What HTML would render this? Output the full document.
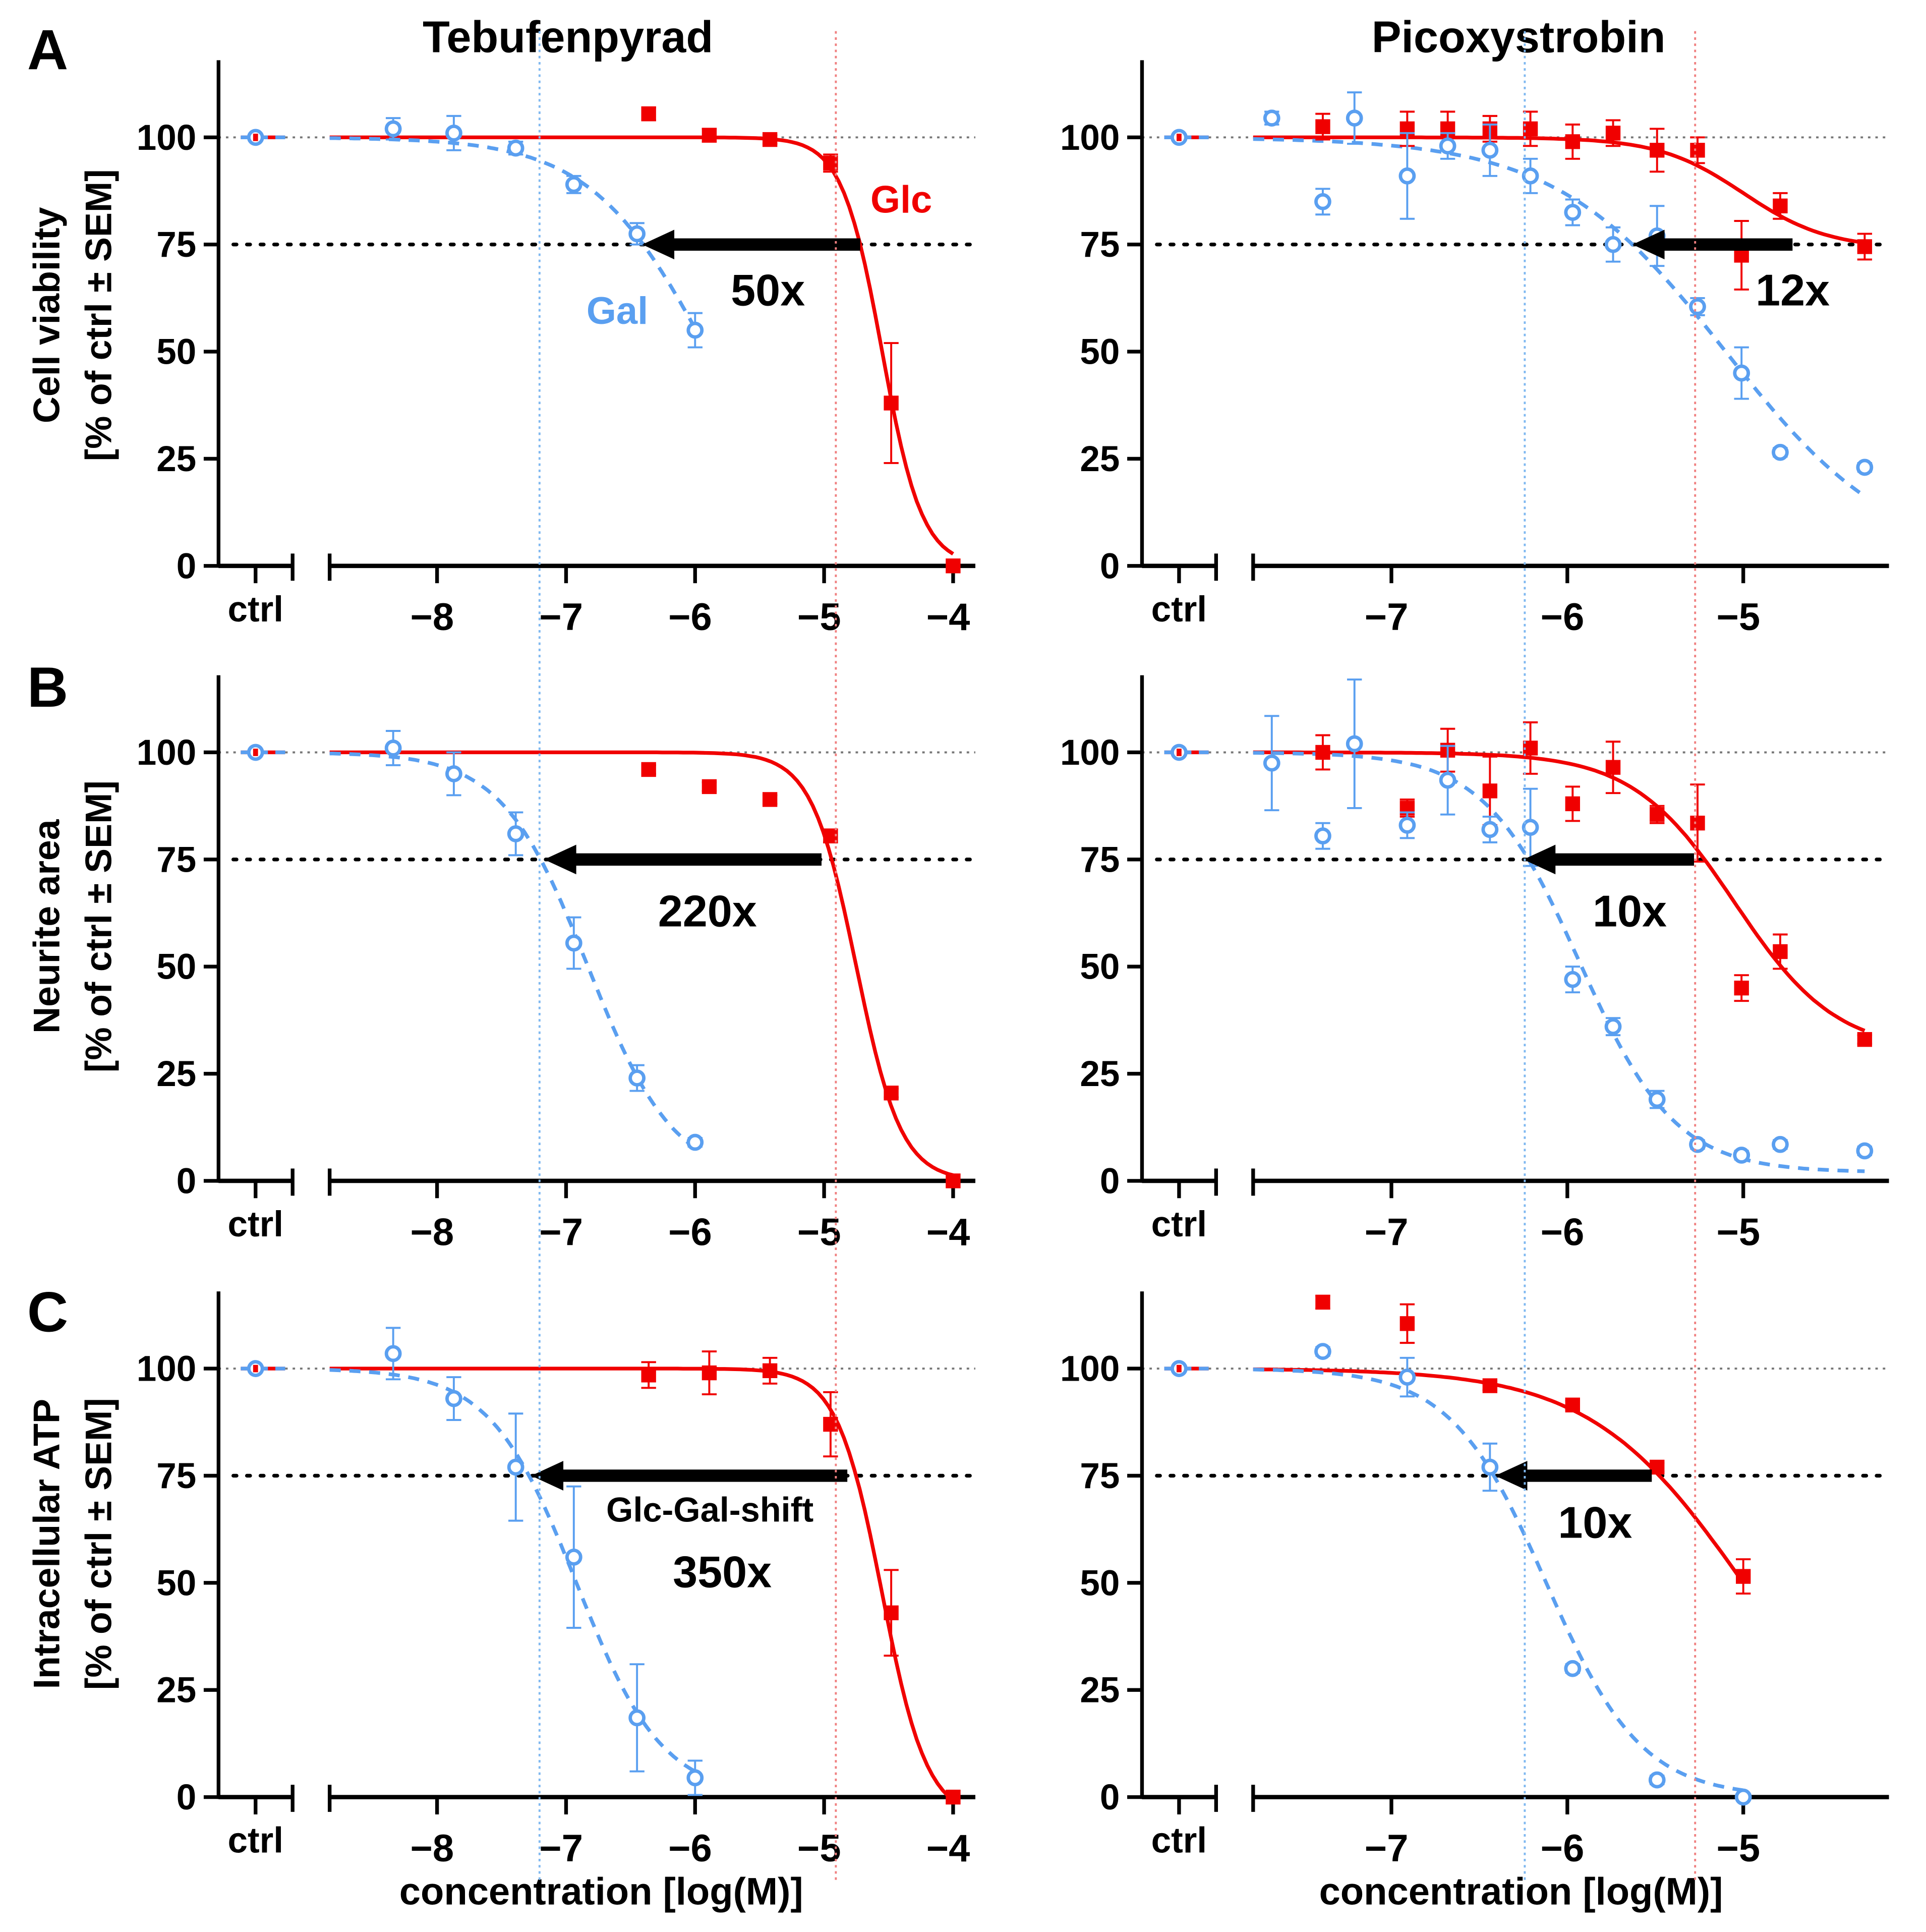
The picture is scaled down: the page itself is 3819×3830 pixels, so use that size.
<!DOCTYPE html>
<html><head><meta charset="utf-8">
<style>
html,body{margin:0;padding:0;background:#fff;}
svg{display:block;}
text{font-family:"Liberation Sans Narrow","Liberation Sans",sans-serif;font-weight:bold;}
</style></head>
<body>
<svg id="chart" width="3819" height="3830" viewBox="0 0 1560 1564" xmlns="http://www.w3.org/2000/svg">
<g id="static">
<text x="22" y="56" font-size="46" font-family="Liberation Sans">A</text>
<text x="22" y="572" font-size="46" font-family="Liberation Sans">B</text>
<text x="22" y="1078" font-size="46" font-family="Liberation Sans">C</text>
<text x="460" y="42" font-size="36" text-anchor="middle">Tebufenpyrad</text>
<text x="1230" y="42" font-size="36" text-anchor="middle">Picoxystrobin</text>
<g font-size="30" font-family="Liberation Sans" text-anchor="middle">
<text transform="translate(48,255) rotate(-90)">Cell viability</text>
<text transform="translate(90,255) rotate(-90)">[% of ctrl ± SEM]</text>
<text transform="translate(48,750) rotate(-90)">Neurite area</text>
<text transform="translate(90,750) rotate(-90)">[% of ctrl ± SEM]</text>
<text transform="translate(48,1250) rotate(-90)">Intracellular ATP</text>
<text transform="translate(90,1250) rotate(-90)">[% of ctrl ± SEM]</text>
</g>
<text x="487" y="1542" font-size="31" text-anchor="middle">concentration [log(M)]</text>
<text x="1232" y="1542" font-size="31" text-anchor="middle">concentration [log(M)]</text>
</g>
<g id="plots"></g>
</svg>
<script>
// ---- data (log M, % of ctrl) ----
const A1_galX=[-8.34,-7.87,-7.39,-6.94,-6.45,-6.0];
const A1_galY=[102,101,97.5,89,77.5,55];
const A1_galE=[2.5,4,1.5,2,2.5,4];
const A1_glcX=[-6.36,-5.89,-5.42,-4.95,-4.48,-4.0];
const A1_glcY=[105.5,100.5,99.5,94,38,0];
const A1_glcE=[1.5,1.5,1,2,14,0];
const A2_galX=[-7.68,-7.39,-7.21,-6.91,-6.68,-6.44,-6.21,-5.97,-5.74,-5.49,-5.26,-5.01,-4.79,-4.31];
const A2_galY=[104.5,85,104.5,91,98,97,91,82.5,75,77,60.5,45,26.5,23];
const A2_galE=[1.5,3,6,10,3,6,4,3,4,7,2,6,1,1];
const A2_glcX=[-7.39,-6.91,-6.68,-6.44,-6.21,-5.97,-5.74,-5.49,-5.26,-5.01,-4.79,-4.31];
const A2_glcY=[102.5,102,102,102,102,99,101,97,97,72.5,84,74.5];
const A2_glcE=[3,4,4,3,4,4,3,5,3,8,3,3];
const B1_galX=[-8.34,-7.87,-7.39,-6.94,-6.45,-6.0];
const B1_galY=[101,95,81,55.5,24,9];
const B1_galE=[4,5,5,6,3,1];
const B1_glcX=[-6.36,-5.89,-5.42,-4.95,-4.48,-4.0];
const B1_glcY=[96,92,89,80.5,20.5,0];
const B1_glcE=[1,1,1,1.5,1,0];
const B2_galX=[-7.68,-7.39,-7.21,-6.91,-6.68,-6.44,-6.21,-5.97,-5.74,-5.49,-5.26,-5.01,-4.79,-4.31];
const B2_galY=[97.5,80.5,102,83,93.5,82,82.5,47,36,19,8.5,6,8.5,7];
const B2_galE=[11,3,15,3,8,3,9,3,2,2,1,1,1,1];
const B2_glcX=[-7.39,-6.91,-6.68,-6.44,-6.21,-5.97,-5.74,-5.49,-5.26,-5.01,-4.79,-4.31];
const B2_glcY=[100,87,100.5,91,101,88,96.5,85.5,83.5,45,53.5,33];
const B2_glcE=[4,2,5,8,6,4,6,2,9,3,4,1];
const C1_galX=[-8.34,-7.87,-7.39,-6.94,-6.45,-6.0];
const C1_galY=[103.5,93,77,56,18.5,4.5];
const C1_galE=[6,5,12.5,16.5,12.5,4];
const C1_glcX=[-6.36,-5.89,-5.42,-4.95,-4.48,-4.0];
const C1_glcY=[98.5,99,99.5,87,43,0];
const C1_glcE=[3,5,3,7.5,10,0];
const C2_galX=[-7.39,-6.91,-6.44,-5.97,-5.49,-5.0];
const C2_galY=[104,98,77,30,4,0];
const C2_galE=[1,4.5,5.5,1,1,0];
const C2_glcX=[-7.39,-6.91,-6.44,-5.97,-5.49,-5.0];
const C2_glcY=[115.5,110.5,96,91.5,77,51.5];
const C2_glcE=[1.5,4.5,1,1,1,4];
// fit parameters [top, bottom, logIC50, hill]
const A1_galFit=[100,0,-5.9,0.95], A1_glcFit=[100,0,-4.55,2.8];
const A2_galFit=[100,0,-5.1,0.9], A2_glcFit=[100,74,-5.0,1.8];
const B1_galFit=[100,0,-6.83,1.3], B1_glcFit=[100,0,-4.75,2.5];
const B2_galFit=[100,2,-5.93,1.6], B2_glcFit=[100,30,-5.05,1.5];
const C1_galFit=[100,0,-6.92,1.3], C1_glcFit=[100,-5,-4.55,2.5];
const C2_galFit=[100,0,-6.12,1.6], C2_glcFit=[100,0,-5.0,1.0];
// shift arrows [from, to] in log M at 75 %
const A1_arrow=[-4.72,-6.41], A2_arrow=[-4.72,-5.63];
const B1_arrow=[-5.02,-7.17], B2_arrow=[-5.28,-6.25];
const C1_arrow=[-4.82,-7.27], C2_arrow=[-5.52,-6.41];
const yTicks=[0,25,50,75,100];
const leftXTicks=[-8,-7,-6,-5,-4];
const rightXTicks=[-7,-6,-5];

const NS='http://www.w3.org/2000/svg';
const RED='#f00000', BLUE='#5a9ff0';
const plots=document.getElementById('plots');
function mk(tag,attrs,parent){const e=document.createElementNS(NS,tag);for(const k in attrs)e.setAttribute(k,attrs[k]);(parent||plots).appendChild(e);return e;}
function hill(p,l){return p[1]+(p[0]-p[1])/(1+Math.pow(10,(l-p[2])*p[3]));}

function panel(o){
  const g=mk('g',{});
  
  
  const y=v=>o.y0-v*3.47;
  const x=l=>o.xRef+(l-o.lRef)*o.dec;
  const ax=o.ax;
  // reference lines
  mk('line',{x1:ax,x2:o.xEnd,y1:y(100),y2:y(100),stroke:'#777','stroke-width':1.6,'stroke-dasharray':'2 4'},g);
  mk('line',{x1:ax+12,x2:o.xEnd,y1:y(75),y2:y(75),stroke:'#000','stroke-width':3,'stroke-dasharray':'2.6 8.4','stroke-linecap':'round'},g);
  // axes
  mk('line',{x1:ax,x2:ax,y1:y(118),y2:o.y0+1.5,stroke:'#000','stroke-width':3},g);
  yTicks.forEach(v=>{
    const t=mk('line',{x1:ax-12,x2:ax,y1:y(v),y2:y(v),stroke:'#000','stroke-width':3},g);
    
    
    const tl=mk('text',{x:ax-18,y:y(v)+10,'font-size':29,'text-anchor':'end'},g);
    tl.textContent=v;
    
    
  });
  mk('line',{x1:ax,x2:ax+60,y1:o.y0,y2:o.y0,stroke:'#000','stroke-width':3.5},g);
  mk('line',{x1:ax+60,x2:ax+60,y1:o.y0-10,y2:o.y0+12,stroke:'#000','stroke-width':3},g);
  mk('line',{x1:ax+30,x2:ax+30,y1:o.y0,y2:o.y0+14,stroke:'#000','stroke-width':3},g);
  const cl=mk('text',{x:ax+30,y:o.y0+45,'font-size':29,'text-anchor':'middle'},g);
  cl.textContent='ctrl';
  
  
  mk('line',{x1:ax+90,x2:o.xEnd,y1:o.y0,y2:o.y0,stroke:'#000','stroke-width':3.5},g);
  mk('line',{x1:ax+90,x2:ax+90,y1:o.y0-10,y2:o.y0+12,stroke:'#000','stroke-width':3},g);
  o.xt.forEach(l=>{
    mk('line',{x1:x(l),x2:x(l),y1:o.y0,y2:o.y0+14,stroke:'#000','stroke-width':3},g);
    const tl=mk('text',{x:x(l)-4,y:o.y0+52,'font-size':31,'text-anchor':'middle'},g);
    tl.textContent='\u2212'+Math.abs(l);
    
    
  });
  // ctrl point lines
  mk('line',{x1:ax+18,x2:ax+54,y1:y(100),y2:y(100),stroke:RED,'stroke-width':3},g);
  mk('line',{x1:ax+18,x2:ax+54,y1:y(100),y2:y(100),stroke:BLUE,'stroke-width':3,'stroke-dasharray':'8 6'},g);
  // curves
  const l0=(ax+90-o.xRef)/o.dec+o.lRef;
  function curve(p,lEnd,color,dash,nm){
    let d='';const n=120;
    for(let i=0;i<=n;i++){const l=l0+(lEnd-l0)*i/n;d+=(i?'L':'M')+x(l).toFixed(1)+','+y(hill(p,l)).toFixed(1);}
    const c=mk('path',{d:d,fill:'none',stroke:color,'stroke-width':3,'stroke-dasharray':dash||'none'},g);
    
    
  }
  curve(o.glcFit,o.glcEnd,RED,null,'glc-fit-curve');
  curve(o.galFit,o.galEnd,BLUE,'9 7','gal-fit-curve');
  // error bars + markers
  function series(xs,ys,es,color,kind){
    xs.forEach((l,i)=>{
      const cx=x(l),cy=y(ys[i]),e=es[i]*3.47;
      if(e>0){
        mk('line',{x1:cx,x2:cx,y1:cy-e,y2:cy+e,stroke:color,'stroke-width':1.6},g);
        mk('line',{x1:cx-6,x2:cx+6,y1:cy-e,y2:cy-e,stroke:color,'stroke-width':1.6},g);
        mk('line',{x1:cx-6,x2:cx+6,y1:cy+e,y2:cy+e,stroke:color,'stroke-width':1.6},g);
      }
      let m;
      if(kind==='sq'){m=mk('rect',{x:cx-6,y:cy-6,width:12,height:12,fill:color},g);}
      else{m=mk('circle',{cx:cx,cy:cy,r:5.5,fill:'#fff',stroke:color,'stroke-width':2.8},g);}
      
    });
  }
  series(o.glcX,o.glcY,o.glcE,RED,'sq');
  series(o.galX,o.galY,o.galE,BLUE,'ci');
  // ctrl markers
  mk('circle',{cx:ax+30,cy:y(100),r:5.5,fill:'#fff',stroke:BLUE,'stroke-width':2.8},g);
  mk('rect',{x:ax+28,y:y(100)-3,width:4,height:6,fill:RED},g);
  // arrow
  const a1=x(o.arrow[0]),a2=x(o.arrow[1]),ay=y(75);
  const ar=mk('path',{d:`M${a1},${ay-5}L${a2+26},${ay-5}L${a2+26},${ay-12}L${a2},${ay}L${a2+26},${ay+12}L${a2+26},${ay+5}L${a1},${ay+5}Z`,fill:'#000'},g);
  
  
  o.labels.forEach(t=>{
    const tx=mk('text',{x:t[1],y:t[2],'font-size':t[3],fill:t[4],'text-anchor':'middle'},g);
    tx.textContent=t[0];
    
    
  });
}
const L={ax:177,xRef:772,lRef:-4,dec:104.5,xEnd:790,xt:leftXTicks};
const R={ax:925,xRef:1412,lRef:-5,dec:142.5,xEnd:1530,xt:rightXTicks};
panel(Object.assign({name:'panel-a-tebufenpyrad',y0:458,galX:A1_galX,galY:A1_galY,galE:A1_galE,glcX:A1_glcX,glcY:A1_glcY,glcE:A1_glcE,galFit:A1_galFit,glcFit:A1_glcFit,galEnd:-6,glcEnd:-4,arrow:A1_arrow,
 labels:[['50x',622,247,36,'#000','fold-shift-label'],['Glc',730,172,31,RED,'glc-label'],['Gal',500,262,31,BLUE,'gal-label']]},L));
panel(Object.assign({name:'panel-a-picoxystrobin',y0:458,galX:A2_galX,galY:A2_galY,galE:A2_galE,glcX:A2_glcX,glcY:A2_glcY,glcE:A2_glcE,galFit:A2_galFit,glcFit:A2_glcFit,galEnd:-4.31,glcEnd:-4.31,arrow:A2_arrow,
 labels:[['12x',1452,247,36,'#000','fold-shift-label']]},R));
panel(Object.assign({name:'panel-b-tebufenpyrad',y0:956,galX:B1_galX,galY:B1_galY,galE:B1_galE,glcX:B1_glcX,glcY:B1_glcY,glcE:B1_glcE,galFit:B1_galFit,glcFit:B1_glcFit,galEnd:-6,glcEnd:-4,arrow:B1_arrow,
 labels:[['220x',573,750,36,'#000','fold-shift-label']]},L));
panel(Object.assign({name:'panel-b-picoxystrobin',y0:956,galX:B2_galX,galY:B2_galY,galE:B2_galE,glcX:B2_glcX,glcY:B2_glcY,glcE:B2_glcE,galFit:B2_galFit,glcFit:B2_glcFit,galEnd:-4.31,glcEnd:-4.31,arrow:B2_arrow,
 labels:[['10x',1320,750,36,'#000','fold-shift-label']]},R));
panel(Object.assign({name:'panel-c-tebufenpyrad',y0:1455,galX:C1_galX,galY:C1_galY,galE:C1_galE,glcX:C1_glcX,glcY:C1_glcY,glcE:C1_glcE,galFit:C1_galFit,glcFit:C1_glcFit,galEnd:-6,glcEnd:-4,arrow:C1_arrow,
 labels:[['Glc-Gal-shift',575,1232,28,'#000','shift-caption'],['350x',585,1285,36,'#000','fold-shift-label']]},L));
panel(Object.assign({name:'panel-c-picoxystrobin',y0:1455,galX:C2_galX,galY:C2_galY,galE:C2_galE,glcX:C2_glcX,glcY:C2_glcY,glcE:C2_glcE,galFit:C2_galFit,glcFit:C2_glcFit,galEnd:-5,glcEnd:-5,arrow:C2_arrow,
 labels:[['10x',1292,1245,36,'#000','fold-shift-label']]},R));
// vertical reference lines
[[437,'#7fb8f0'],[677,'#f08080'],[1235,'#7fb8f0'],[1373,'#f08080']].forEach(v=>{
  const ln=mk('line',{x1:v[0],x2:v[0],y1:25,y2:1525,stroke:v[1],'stroke-width':1.6,'stroke-dasharray':'2 3'});
  
  
});
</script>
</body></html>
